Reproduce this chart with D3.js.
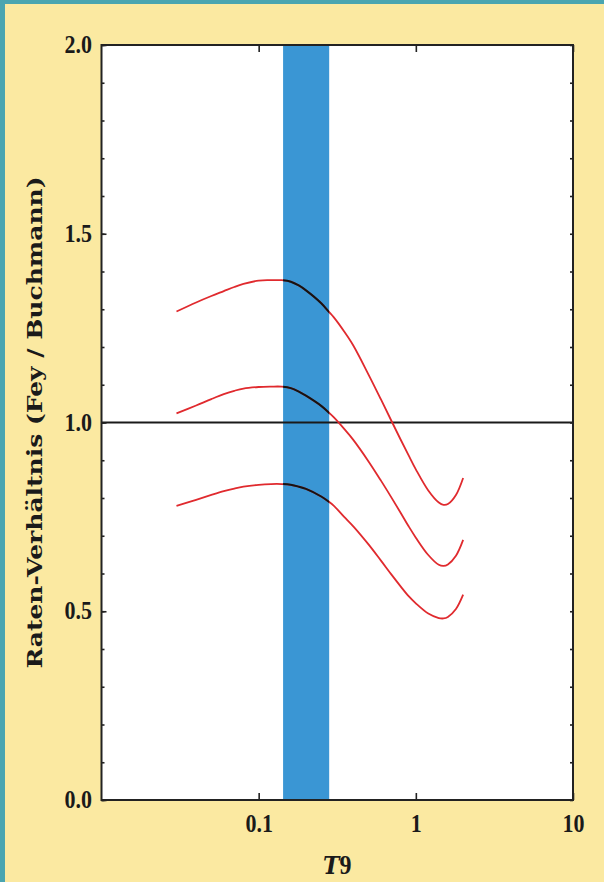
<!DOCTYPE html>
<html>
<head>
<meta charset="utf-8">
<script src="https://cdn.jsdelivr.net/npm/d3@7"></script>
<style>
  html, body { margin: 0; padding: 0; background: #fbe9a1; }
  svg { display: block; }
</style>
</head>
<body>
<svg id="chart" width="604" height="882"></svg>
<script>
// Temperature grid (T9 = T / 10^9 K)
const T9 = [0.03, 0.04, 0.05, 0.06, 0.07, 0.08, 0.1, 0.12, 0.14, 0.16, 0.18, 0.2, 0.25, 0.28, 0.3,
            0.35, 0.4, 0.5, 0.6, 0.7, 0.8, 0.9, 1.0, 1.2, 1.4, 1.5, 1.6, 1.8, 2.0];

// Rate ratio Fey / Buchmann: upper, central and lower estimate
const ratioUpper = [1.294, 1.318, 1.335, 1.348, 1.359, 1.367, 1.376, 1.377, 1.377, 1.373, 1.363, 1.350, 1.316, 1.293, 1.279,
                    1.241, 1.204, 1.127, 1.061, 1.004, 0.955, 0.913, 0.876, 0.820, 0.788, 0.782, 0.784, 0.808, 0.853];
const ratioCentral = [1.024, 1.045, 1.062, 1.075, 1.084, 1.090, 1.094, 1.095, 1.095, 1.091, 1.082, 1.071, 1.044, 1.026, 1.014,
                      0.983, 0.954, 0.897, 0.846, 0.801, 0.761, 0.725, 0.695, 0.649, 0.623, 0.620, 0.624, 0.647, 0.689];
const ratioLower = [0.779, 0.795, 0.808, 0.818, 0.825, 0.830, 0.835, 0.837, 0.837, 0.835, 0.830, 0.824, 0.804, 0.790, 0.780,
                    0.750, 0.725, 0.677, 0.634, 0.597, 0.566, 0.540, 0.521, 0.494, 0.482, 0.481, 0.485, 0.506, 0.544];

// Relevant temperature window (shaded band)
const windowT9 = [0.143, 0.281];

// Axis ticks and labels
const xTickValues = [0.1, 1, 10];
const xTickLabels = ["0.1", "1", "10"];
const yMajorTicks = [0, 0.5, 1.0, 1.5, 2.0];
const yMinorTicks = [0, 0.1, 0.2, 0.3, 0.4, 0.5, 0.6, 0.7, 0.8, 0.9, 1.0, 1.1, 1.2, 1.3, 1.4, 1.5, 1.6, 1.7, 1.8, 1.9, 2.0];
const referenceRatio = 1.0;
const xTitle = ["T", "9"];
const yTitle = "Raten-Verhältnis (Fey / Buchmann)";

const W = 604, H = 882;
const plotLeft = 101.5, plotRight = 573, plotTop = 45, plotBottom = 800;

const svg = d3.select("#chart");

// Page background with the teal edge along top and left
svg.append("rect").attr("width", W).attr("height", H).attr("fill", "#fbe9a1");
svg.append("rect").attr("x", 0).attr("y", 0).attr("width", W).attr("height", 4).attr("fill", "#4aa5b0");
svg.append("rect").attr("x", 0).attr("y", 0).attr("width", 5).attr("height", H).attr("fill", "#4aa5b0");

const x = d3.scaleLog().domain([0.01, 10]).range([plotLeft, plotRight]);
const y = d3.scaleLinear().domain([0, 2]).range([plotBottom, plotTop]);

// Plot area
svg.append("rect")
  .attr("x", plotLeft).attr("y", plotTop)
  .attr("width", plotRight - plotLeft).attr("height", plotBottom - plotTop)
  .attr("fill", "#ffffff");

// Shaded temperature window
svg.append("rect")
  .attr("x", x(windowT9[0])).attr("y", plotTop)
  .attr("width", x(windowT9[1]) - x(windowT9[0]))
  .attr("height", plotBottom - plotTop)
  .attr("fill", "#3a96d4");

// Reference line at ratio 1
svg.append("line")
  .attr("x1", plotLeft).attr("x2", plotRight)
  .attr("y1", y(referenceRatio)).attr("y2", y(referenceRatio))
  .attr("stroke", "#1a1a1a").attr("stroke-width", 1.8);

const series = [ratioUpper, ratioCentral, ratioLower];
const line = d3.line()
  .x(d => x(d[0]))
  .y(d => y(d[1]))
  .curve(d3.curveCatmullRom.alpha(0.5));

svg.append("clipPath").attr("id", "windowClip")
  .append("rect")
  .attr("x", x(windowT9[0])).attr("y", plotTop)
  .attr("width", x(windowT9[1]) - x(windowT9[0]))
  .attr("height", plotBottom - plotTop);

series.forEach(vals => {
  const pts = T9.map((t, i) => [t, vals[i]]);
  svg.append("path")
    .attr("d", line(pts))
    .attr("fill", "none")
    .attr("stroke", "#e02a2e")
    .attr("stroke-width", 1.8);
  // inside the window the curve is drawn in black
  svg.append("path")
    .attr("d", line(pts))
    .attr("fill", "none")
    .attr("stroke", "#141414")
    .attr("stroke-width", 2)
    .attr("clip-path", "url(#windowClip)");
});

const labelFont = "'Liberation Serif', 'Times New Roman', serif";

// Left axis: minor and major ticks pointing inward, with labels
svg.append("g")
  .attr("transform", `translate(${plotLeft},0)`)
  .call(d3.axisLeft(y).tickValues(yMinorTicks).tickSize(-3).tickFormat(""))
  .call(g => g.select(".domain").remove())
  .call(g => g.selectAll("line").attr("stroke", "#222").attr("stroke-width", 1.6));

svg.append("g")
  .attr("transform", `translate(${plotLeft},0)`)
  .call(d3.axisLeft(y).tickValues(yMajorTicks).tickSize(-5).tickPadding(9.5).tickFormat(d3.format(".1f")))
  .call(g => g.select(".domain").remove())
  .call(g => g.selectAll("line").attr("stroke", "#222").attr("stroke-width", 1.6))
  .call(g => g.selectAll("text")
    .attr("font-family", labelFont)
    .attr("font-weight", "bold")
    .attr("font-size", 22)
    .attr("fill", "#1a1a1a")
    .attr("dy", null)
    .attr("y", 6.6)
    .attr("transform", "scale(1,1.15)"));

// Right axis: minor ticks pointing inward
svg.append("g")
  .attr("transform", `translate(${plotRight},0)`)
  .call(d3.axisRight(y).tickValues(yMinorTicks).tickSize(-3).tickFormat(""))
  .call(g => g.select(".domain").remove())
  .call(g => g.selectAll("line").attr("stroke", "#222").attr("stroke-width", 1.6));

// Bottom axis with labels
svg.append("g")
  .attr("transform", `translate(0,${plotBottom})`)
  .call(d3.axisBottom(x).tickValues(xTickValues).tickSize(-7).tickPadding(0)
    .tickFormat((d, i) => xTickLabels[i]))
  .call(g => g.select(".domain").remove())
  .call(g => g.selectAll("line").attr("stroke", "#222").attr("stroke-width", 1.6))
  .call(g => g.selectAll("text")
    .attr("font-family", labelFont)
    .attr("font-weight", "bold")
    .attr("font-size", 22)
    .attr("fill", "#1a1a1a")
    .attr("dy", null)
    .attr("y", 27.8)
    .attr("transform", "scale(1,1.15)"));

// Top axis ticks
svg.append("g")
  .attr("transform", `translate(0,${plotTop})`)
  .call(d3.axisTop(x).tickValues(xTickValues).tickSize(-7).tickFormat(""))
  .call(g => g.select(".domain").remove())
  .call(g => g.selectAll("line").attr("stroke", "#222").attr("stroke-width", 1.6));

// Plot frame
svg.append("rect")
  .attr("x", plotLeft).attr("y", plotTop)
  .attr("width", plotRight - plotLeft).attr("height", plotBottom - plotTop)
  .attr("fill", "none")
  .attr("stroke", "#222")
  .attr("stroke-width", 2);

// Axis titles
const xt = svg.append("text")
  .attr("transform", `translate(${(plotLeft + plotRight) / 2},874) scale(1,1.12)`)
  .attr("text-anchor", "middle")
  .attr("font-weight", "bold")
  .attr("font-size", 24)
  .attr("fill", "#1a1a1a");
xt.append("tspan").attr("font-family", "'DejaVu Serif', serif").attr("font-style", "italic").attr("font-size", 22).text(xTitle[0]);
xt.append("tspan").attr("font-family", labelFont).text(xTitle[1]);

svg.append("text")
  .attr("transform", `translate(42,${(plotTop + plotBottom) / 2}) rotate(-90) scale(1.25,1)`)
  .attr("text-anchor", "middle")
  .attr("font-family", "'DejaVu Serif', serif")
  .attr("font-weight", "bold")
  .attr("font-size", 20)
  .attr("fill", "#1a1a1a")
  .text(yTitle);
</script>
</body>
</html>
